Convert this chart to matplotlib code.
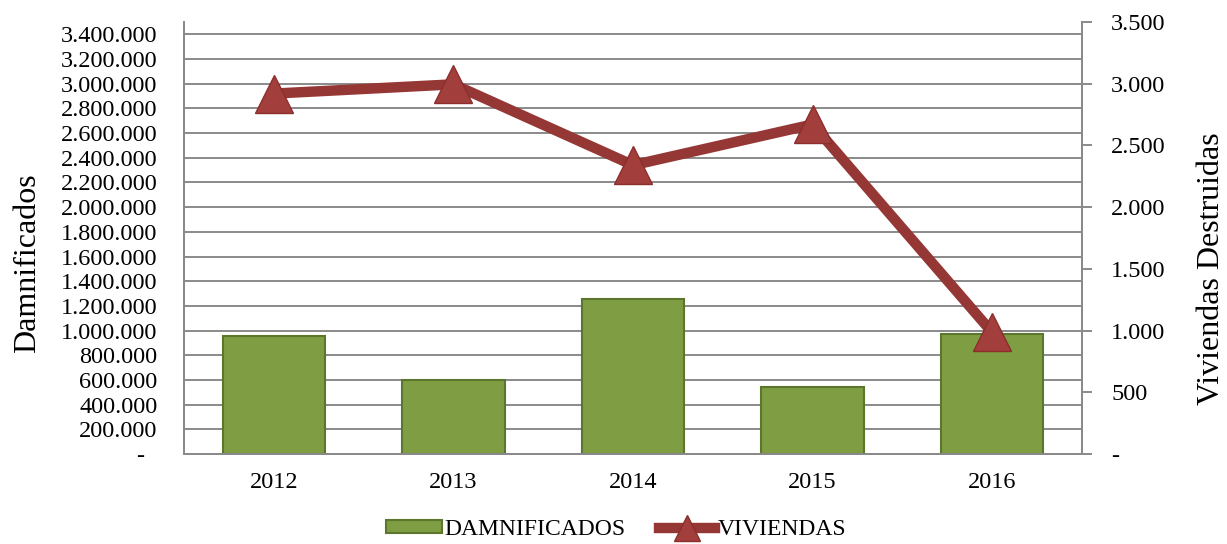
import matplotlib
matplotlib.use("Agg")
import matplotlib.pyplot as plt
from matplotlib.ticker import MultipleLocator, FuncFormatter

# data
years = ["2012", "2013", "2014", "2015", "2016"]
damnificados = [960000, 602000, 1255000, 539000, 969000]
viviendas = [2920, 2995, 2340, 2670, 985]

plt.rcParams["font.family"] = ["Liberation Serif", "DejaVu Serif"]

BAR_COLOR = "#7f9e43"
BAR_EDGE = "#5c772d"
LINE_COLOR = "#953735"
GRID_COLOR = "#8a8a8a"


def thousands(v, _pos):
    if v == 0:
        return "-  "
    return f"{int(round(v)):,}".replace(",", ".")


def thousands_right(v, _pos):
    if v == 0:
        return "-"
    return f"{int(round(v)):,}".replace(",", ".")


fig = plt.figure(figsize=(12.27, 5.44), dpi=100)
ax = fig.add_axes([184 / 1227, 1 - 454 / 544, 898 / 1227, 432 / 544])
ax2 = ax.twinx()

x = list(range(len(years)))

ax.bar(x, damnificados, width=0.57, color=BAR_COLOR, edgecolor=BAR_EDGE,
       linewidth=1.5, zorder=3, label="DAMNIFICADOS")
ax.set_xlim(-0.5, len(years) - 0.5)
ax.set_ylim(0, 3500000)
ax.yaxis.set_major_locator(MultipleLocator(200000))
ax.yaxis.set_major_formatter(FuncFormatter(thousands))
ax.set_axisbelow(True)
ax.grid(axis="y", color=GRID_COLOR, linewidth=1.4)
ax.set_xticks(x)
ax.set_xticklabels(years)
ax.tick_params(axis="y", length=0, pad=19, labelsize=17.5)
ax.tick_params(axis="x", length=0, pad=13, labelsize=17.5)
ax.set_ylabel("Damnificados", fontsize=23)
ax.yaxis.set_label_coords(-0.158, 0.442)

ax2.plot(x, viviendas, color=LINE_COLOR, linewidth=7.5, marker="^",
         markersize=27, markerfacecolor="#a23f3c", markeredgecolor="#8b2e2c",
         markeredgewidth=1.0, zorder=4, label="VIVIENDAS")
ax2.set_ylim(0, 3500)
ax2.yaxis.set_major_locator(MultipleLocator(500))
ax2.yaxis.set_major_formatter(FuncFormatter(thousands_right))
ax2.tick_params(axis="y", length=7, width=1.4, color=GRID_COLOR, pad=14, labelsize=17.5)
ax2.set_ylabel("Viviendas Destruidas", fontsize=23, rotation=90)
ax2.yaxis.set_label_coords(1.128, 0.43)

for a in (ax, ax2):
    a.spines["top"].set_visible(False)
    for side in ("left", "right", "bottom"):
        a.spines[side].set_color(GRID_COLOR)
        a.spines[side].set_linewidth(1.4)

h1, l1 = ax.get_legend_handles_labels()
h2, l2 = ax2.get_legend_handles_labels()
fig.legend(h1 + h2, l1 + l2, loc="center", bbox_to_anchor=(0.502, 0.026),
           ncol=2, frameon=False, fontsize=17, handlelength=2.4,
           handleheight=0.47, handletextpad=0.1, columnspacing=1.4,
           markerscale=0.7, numpoints=1, borderpad=0.2)

fig.savefig("out.png", dpi=100)
